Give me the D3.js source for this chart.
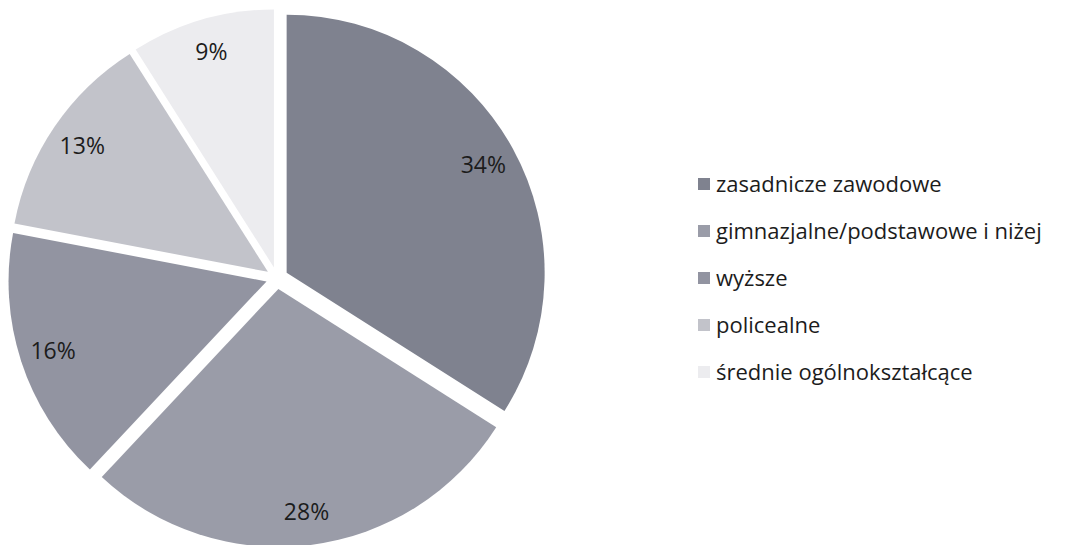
<!DOCTYPE html>
<html>
<head>
<meta charset="utf-8">
<script src="https://cdn.jsdelivr.net/npm/d3@7"></script>
<style>
  html, body { margin: 0; padding: 0; background: #ffffff; }
  svg { display: block; }
</style>
</head>
<body>
<svg id="chart" width="1073" height="545"></svg>
<script>
const categories = ["zasadnicze zawodowe", "gimnazjalne/podstawowe i niżej", "wyższe", "policealne", "średnie ogólnokształcące"];
const values = [34, 28, 16, 13, 9];
const labels = ["34%", "28%", "16%", "13%", "9%"];
const colors = ["#7f828f", "#9a9ca8", "#9294a1", "#c2c3ca", "#ececef"];

const svg = d3.select("#chart");
const cx = 277, cy = 278, r = 258, explode = 11;

const pie = d3.pie().sort(null).value(d => d);
const arcs = pie(values);
const arc = d3.arc().innerRadius(0).outerRadius(r);
const labelArc = d3.arc().innerRadius(r * 0.87).outerRadius(r * 0.87);

const g = svg.append("g").attr("transform", `translate(${cx},${cy})`);

const slices = g.selectAll("g.slice").data(arcs).enter().append("g")
  .attr("class", "slice")
  .attr("transform", d => {
    const a = (d.startAngle + d.endAngle) / 2;
    return `translate(${Math.sin(a) * explode},${-Math.cos(a) * explode})`;
  });

slices.append("path")
  .attr("d", arc)
  .attr("fill", (d, i) => colors[i]);

slices.append("text")
  .attr("transform", d => `translate(${labelArc.centroid(d)})`)
  .attr("text-anchor", "middle")
  .attr("dy", "0.36em")
  .attr("font-family", "'Open Sans', sans-serif")
  .attr("font-size", 23)
  .attr("fill", "#1c1c1c")
  .text((d, i) => labels[i]);

const legend = svg.append("g").attr("transform", "translate(698,184)");
const rowScale = d3.scaleBand().domain(categories).range([0, 47 * categories.length]).paddingInner(0);

const items = legend.selectAll("g.item").data(categories).enter().append("g")
  .attr("class", "item")
  .attr("transform", d => `translate(0,${rowScale(d)})`);

items.append("rect")
  .attr("x", 0).attr("y", -6)
  .attr("width", 12).attr("height", 12)
  .attr("fill", (d, i) => colors[i]);

items.append("text")
  .attr("x", 18).attr("y", 0)
  .attr("dy", "0.36em")
  .attr("font-family", "'Open Sans', sans-serif")
  .attr("font-size", 22)
  .attr("fill", "#1c1c1c")
  .text(d => d);
</script>
</body>
</html>
